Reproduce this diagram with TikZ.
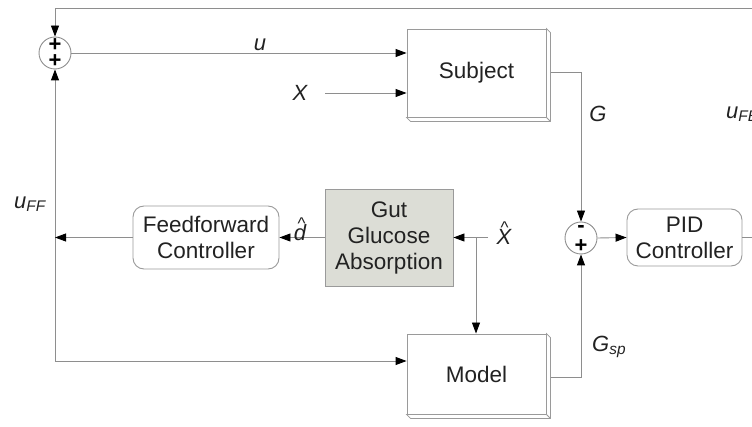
\documentclass[tikz,border=0pt]{standalone}
\usepackage{fontspec}
\setmainfont{Liberation Sans}
\usetikzlibrary{arrows.meta,calc}

\definecolor{wiregray}{HTML}{8E8E8E}
\definecolor{boxgray}{HTML}{9A9A9A}
\definecolor{ink}{HTML}{222222}
\definecolor{gutfill}{HTML}{DCDDD6}

% letter with a small caret set above it
\newcommand{\caretover}[2][0pt]{\shortstack[c]{\hspace*{#1}\fontsize{17}{9}\upshape\selectfont\raisebox{-7pt}[6pt][0pt]{\textasciicircum}\\#2}}

\tikzset{
  wire/.style={draw=wiregray, line width=0.9pt},
  arr/.style={wire, -{Triangle[length=11pt,width=8pt,color=black]}},
  blockfont/.style={font=\fontsize{22.5}{26}\selectfont, text=ink},
  block/.style={draw=boxgray, line width=0.9pt, fill=white, align=center,
                blockfont, inner sep=0pt},
  rblock/.style={block, rounded corners=11pt},
  sumnode/.style={circle, draw=wiregray, line width=0.9pt, fill=white,
                  minimum size=32pt, inner sep=0pt},
  sign/.style={font=\fontsize{22}{22}\bfseries\selectfont, text=black, inner sep=0pt},
  lbl/.style={font=\fontsize{22}{26}\itshape\selectfont, text=ink, inner sep=0pt},
  edge3d/.style={draw=boxgray, line width=0.8pt, fill=white}
}

\begin{document}
\begin{tikzpicture}[x=1pt,y=-1pt]
  \useasboundingbox (0,0) rectangle (752,427);

  % blocks
  \node[block, minimum width=139pt, minimum height=88pt] (subj) at (476.5,73) {Subject};
  \node[block, minimum width=139pt, minimum height=80pt] (model) at (476.5,374) {\raisebox{-3pt}{Model}};
  \node[block, fill=gutfill, minimum width=128pt, minimum height=97pt] (gut) at (389,237.5) {Gut\\Glucose\\Absorption};
  \node[rblock, minimum width=146pt, minimum height=63pt] (ff) at (206,237.5) {Feedforward\\Controller};
  \node[rblock, minimum width=115pt, minimum height=57pt] (pid) at (684.5,237.5) {PID\\Controller};

  % summing junctions
  \node[sumnode] (s1) at (55,53) {};
  \node[sumnode] (s2) at (581,238) {};

  % helper points
  \coordinate (fbin) at (770,8);
  \coordinate (pidout) at (770,237.5);
  \coordinate (xin) at (325,93);
  \coordinate (xhin) at (488,237.5);
  \coordinate (split) at (476,237.5);
  \coordinate (bl) at (55,361);

  % connectors
  \draw[arr] (fbin) -| (s1.north);
  \draw[arr] (s1.east) -- (s1.east -| subj.west);
  \draw[arr] (xin) -- (xin -| subj.west);
  \draw[arr] ([yshift=1pt]subj.east) -| (s2.north);
  \draw[arr] (s2.east) -- (pid.west);
  \draw[wire] (pid.east) -- (pidout);
  \draw[arr] ([yshift=-3pt]model.east) -| (s2.south);
  \draw[arr] (bl) -- (s1.south);
  \draw[arr] (bl) -- (bl -| model.west);
  \draw[arr] (ff.west) -- (ff.west -| bl);
  \draw[arr] (gut.west) -- (ff.east);
  \draw[arr] (xhin) -- (gut.east);
  \draw[arr] (split) -- (split |- model.north);

  % extruded edges of Subject and Model
  \foreach \b in {subj,model}{
    \draw[edge3d] (\b.north east) -- ++(4,4) -- ($(\b.south east)+(4,4)$)
      -- ($(\b.south west)+(4,4)$) -- (\b.south west) -- (\b.south east) -- cycle;
    \draw[edge3d] (\b.south east) -- ++(4,4);
  }

  % signs in the summing junctions
  \node[sign] (s1a) at (55,45) {+};
  \node[sign] (s1b) at (55,61) {+};
  \node[sign] (s2a) at (581,229) {-};
  \node[sign] (s2b) at (581,246) {+};

  % signal labels
  \node[lbl] (lu) at (260,45) {u};
  \node[lbl] (lx) at (300,93) {X};
  \node[lbl] (lg) at (598,114) {G};
  \node[lbl, anchor=west] (lufb) at (726,114) {u\textsubscript{FB}};
  \node[lbl] (luff) at (30,204) {u\textsubscript{FF}};
  \node[lbl, anchor=base] (ld) at (300,241) {\caretover[3pt]{d}};
  \node[lbl, anchor=base] (lxh) at (504,245) {\caretover[1pt]{X}};
  \node[lbl, anchor=west] (lgsp) at (592,347) {G\textsubscript{sp}};
\end{tikzpicture}
\end{document}
